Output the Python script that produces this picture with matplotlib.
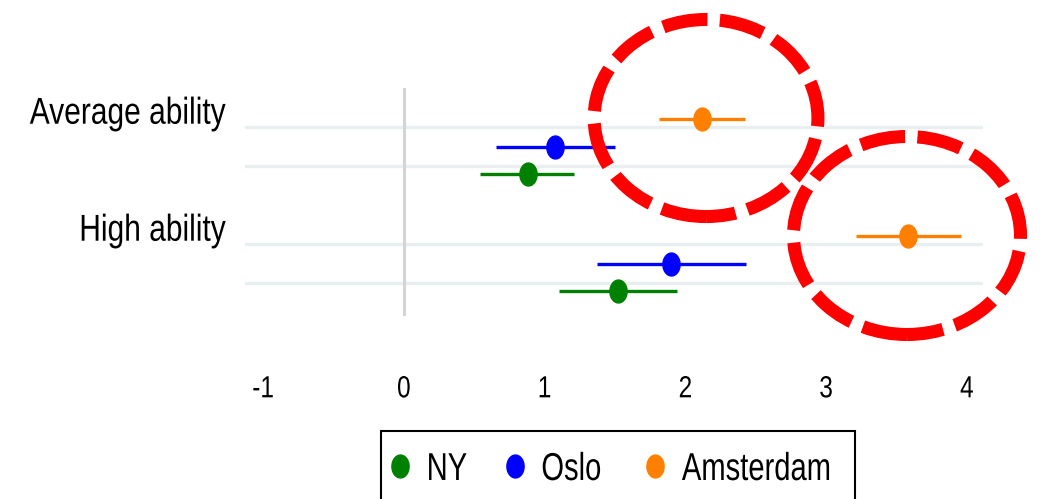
import matplotlib
matplotlib.use("Agg")
import matplotlib.pyplot as plt
import numpy as np
from matplotlib.path import Path
from matplotlib.patches import Ellipse, Rectangle
from matplotlib.lines import Line2D
from matplotlib.patheffects import AbstractPathEffect
from matplotlib.transforms import Affine2D

plt.rcParams['font.family'] = ['Liberation Sans', 'DejaVu Sans']

# ---- data ----
categories = ["Average ability", "High ability"]
series = ["NY", "Oslo", "Amsterdam"]
colors = {"NY": "#008000", "Oslo": "#0000ff", "Amsterdam": "#ff8000"}
estimates = {
    "NY":        [0.88, 1.52],
    "Oslo":      [1.07, 1.90],
    "Amsterdam": [2.12, 3.58],
}
ci_low = {
    "NY":        [0.54, 1.10],
    "Oslo":      [0.65, 1.37],
    "Amsterdam": [1.81, 3.21],
}
ci_high = {
    "NY":        [1.21, 1.94],
    "Oslo":      [1.50, 2.43],
    "Amsterdam": [2.42, 3.96],
}
xticks = [-1, 0, 1, 2, 3, 4]
xticklabels = ["-1", "0", "1", "2", "3", "4"]


class NarrowText(AbstractPathEffect):
    """Draw text condensed horizontally (narrow typeface look)."""
    def __init__(self, sx, sy=1.0, anchor="center"):
        super().__init__()
        self.sx = sx
        self.sy = sy
        self.anchor = anchor

    def draw_path(self, renderer, gc, tpath, affine, rgbFace=None):
        xs = tpath.vertices[:, 0]
        if len(xs):
            if self.anchor == "left":
                cx = 0.0
            elif self.anchor == "right":
                cx = xs.max()
            else:
                cx = 0.5 * (xs.min() + xs.max())
        else:
            cx = 0.0
        t = Affine2D().translate(-cx, 0).scale(self.sx, self.sy).translate(cx, 0) + affine
        renderer.draw_path(gc, tpath, t, rgbFace)


# ---- layout constants ----
offsets = {"Amsterdam": 0.0, "Oslo": 0.234, "NY": 0.4675}
grid_offsets = [0.066, 0.40]
label_offset = -0.065

W, H = 1041, 499
fig = plt.figure(figsize=(W / 100, H / 100), dpi=100)
ax = fig.add_axes([245 / W, 1 - 316 / H, 738 / W, 228 / H])
ax.set_xlim(-1.13, 4.114)
ax.set_ylim(1.681, -0.2675)

# elliptical marker (taller than wide)
t = np.linspace(0, 2 * np.pi, 60)
verts = np.column_stack([0.75 * np.cos(t), np.sin(t)])
emarker = Path(verts, closed=True)

for gi, cat in enumerate(categories):
    for go in grid_offsets:
        ax.axhline(gi + go, color="#e9eff1", lw=2.4, zorder=0)

ax.axvline(0, color="#d4d4d4", lw=2.2, zorder=1)

for s in series:
    for gi in range(len(categories)):
        y = gi + offsets[s]
        ax.plot([ci_low[s][gi], ci_high[s][gi]], [y, y], color=colors[s], lw=2.4,
                solid_capstyle="butt", zorder=3)
        ax.plot([estimates[s][gi]], [y], marker=emarker, markersize=16.5,
                color=colors[s], linestyle="none", zorder=4)

# red dashed ellipse highlights
for (cx, cy, w, h) in [(2.146, -0.011, 1.59, 1.684), (3.574, 0.993, 1.613, 1.692)]:
    e = Ellipse((cx, cy), w, h, angle=180, fill=False, edgecolor="#ff0000", lw=9.4,
                linestyle=(0, (3.45, 0.95)), clip_on=False, zorder=5)
    ax.add_patch(e)

ax.set_xticks(xticks)
ax.set_xticklabels(xticklabels, fontsize=22)
ax.set_yticks([gi + label_offset for gi in range(len(categories))])
ax.set_yticklabels(categories, fontsize=24.5)
ax.tick_params(axis="x", length=0, pad=42)
ax.tick_params(axis="y", length=0, pad=14)
for lab in ax.get_xticklabels():
    lab.set_path_effects([NarrowText(0.80, 1.0, "center")])
for lab in ax.get_yticklabels():
    lab.set_path_effects([NarrowText(0.88, 1.10, "right")])
for sp in ax.spines.values():
    sp.set_visible(False)

handles = [Line2D([], [], marker=emarker, markersize=16.5, color=colors[s], linestyle="none")
           for s in series]
leg = fig.legend(handles, series, loc="center left", bbox_to_anchor=(387.4 / W, 1 - 470 / H),
                 ncol=3, fontsize=28, frameon=False, handletextpad=0.36,
                 columnspacing=0.55, handlelength=0.65, borderpad=0, borderaxespad=0)
for txt in leg.get_texts():
    txt.set_path_effects([NarrowText(0.75, 1.0, "left")])

fig.add_artist(Rectangle((381 / W, -0.1), (855 - 381) / W, (1 - 431 / H) + 0.1,
                         transform=fig.transFigure, fill=False, edgecolor="black", lw=1.5))

fig.savefig("out.png", dpi=100)
